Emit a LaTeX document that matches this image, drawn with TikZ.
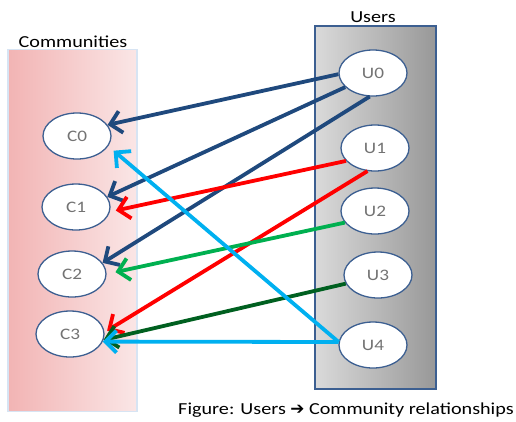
\documentclass[tikz,border=0pt]{standalone}
\usepackage{fontspec}
\setmainfont{Carlito}[FakeStretch=1.2]
\newfontfamily\symfont{DejaVu Sans}
\usetikzlibrary{arrows.meta, shapes.geometric}
\definecolor{darkblue}{RGB}{31,73,125}
\definecolor{lightblue}{RGB}{0,176,240}
\definecolor{midgreen}{RGB}{0,176,80}
\definecolor{darkgreen}{RGB}{0,96,32}
\definecolor{ellborder}{RGB}{60,95,145}
\definecolor{pinkleft}{RGB}{242,180,180}
\definecolor{pinkright}{RGB}{250,230,230}
\definecolor{greyleft}{RGB}{218,218,218}
\definecolor{greyright}{RGB}{152,152,152}
\definecolor{paleframe}{RGB}{215,228,243}

\begin{document}
\begin{tikzpicture}[x=1pt, y=-1pt,
  member/.style={ellipse, draw=ellborder, line width=1.3pt, fill=white,
    minimum width=68pt, minimum height=46pt, inner sep=0pt,
    font=\fontsize{16}{16}\selectfont, text=black!55},
  title/.style={font=\fontsize{16.8}{18}\selectfont},
  link/.style={line width=3.8pt, -{Straight Barb[length=11pt, width=22pt]}}]
  \useasboundingbox (0,0) rectangle (516,421);

  % Group boxes
  \node[draw=paleframe, line width=1.2pt, left color=pinkleft, right color=pinkright,
    minimum width=129pt, minimum height=362pt] (commbox) at (72.5,230.5) {};
  \node[draw=ellborder, line width=1.2pt, left color=greyleft, right color=greyright,
    minimum width=121pt, minimum height=363pt] (userbox) at (375.5,207.5) {};
  \node[title] (commtitle) at (73,42) {Communities};
  \node[title] (usertitle) at (373,17) {Users};

  % Communities
  \node[member] (c0) at (77,136) {C0};
  \node[member] (c1) at (76,207) {C1};
  \node[member] (c2) at (72,274) {C2};
  \node[member] (c3) at (70,334) {C3};

  % Users
  \node[member] (u0) at (373,73) {U0};
  \node[member] (u1) at (375,148) {U1};
  \node[member] (u2) at (375,211) {U2};
  \node[member] (u3) at (378,275) {U3};
  \node[member] (u4) at (373,345) {U4};

  % Relationships
  \draw[link, darkblue] (u0.182) -- (c0.20);
  \draw[link, darkblue] (u0.207) -- (c1.18);
  \draw[link, darkblue] (u0.262) -- (c2.20);
  \draw[link, red, shorten >=6pt] (u1.204) -- (c1.-8);
  \draw[link, red, shorten >=3pt] (u1.252) -- (c3.3);
  \draw[link, midgreen, shorten >=9pt] (u2.201) -- (c2.0);
  \draw[link, darkgreen] (u3.195) -- (c3.-10);
  \draw[link, lightblue] (u4.175) -- (c3.-13);
  \draw[link, lightblue, shorten >=7pt] (u4.175) -- (c0.-18);

  \node[title] (caption) at (346,410) {Figure: Users {\symfont ➔} Community relationships};
\end{tikzpicture}
\end{document}
